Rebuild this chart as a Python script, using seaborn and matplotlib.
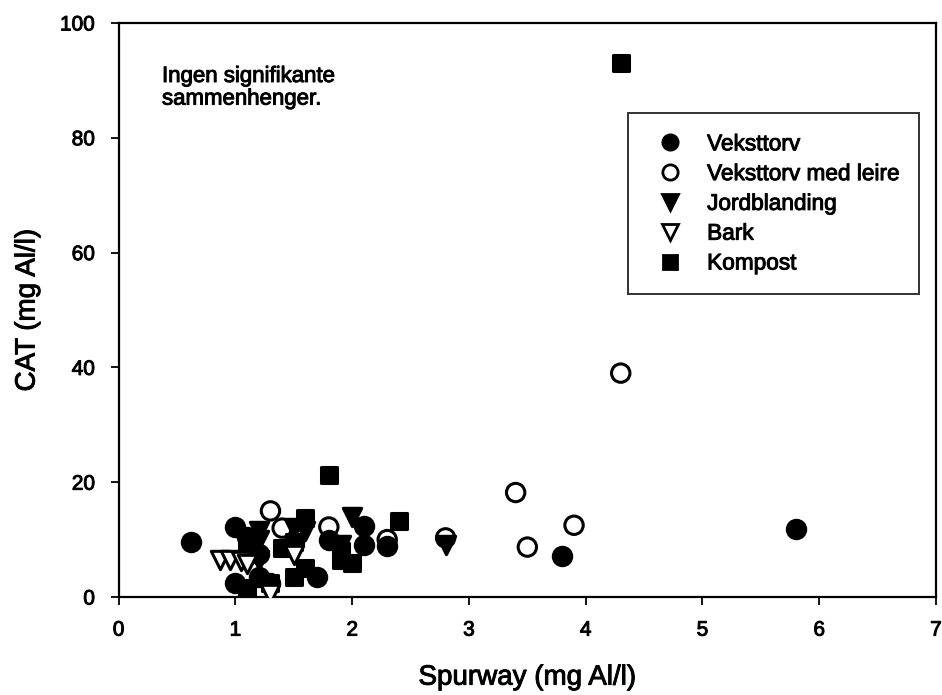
import matplotlib
matplotlib.use("Agg")
import matplotlib.pyplot as plt
import matplotlib.patheffects as pe
import seaborn as sns
import pandas as pd
from matplotlib.lines import Line2D

sns.set_theme(style="ticks")
plt.rcParams['font.family'] = ['Liberation Sans', 'DejaVu Sans']
plt.rcParams['text.color'] = 'black'
plt.rcParams['axes.labelcolor'] = 'black'
plt.rcParams['xtick.color'] = 'black'
plt.rcParams['ytick.color'] = 'black'

groups = ["Veksttorv", "Veksttorv med leire", "Jordblanding", "Bark", "Kompost"]

veksttorv_x = [0.62, 1.0, 1.0, 1.1, 1.2, 1.2, 1.5, 1.7, 1.8, 2.1, 2.1, 2.3, 3.8, 5.8, 1.3]
veksttorv_y = [9.5, 12.2, 2.5, 10.5, 7.5, 3.5, 9.5, 3.5, 10.0, 12.3, 9.0, 8.8, 7.2, 11.8, 2.5]

leire_x = [1.3, 1.4, 1.8, 2.3, 2.8, 3.4, 3.5, 3.9, 4.3]
leire_y = [15.0, 12.0, 12.2, 10.0, 10.3, 18.2, 8.7, 12.5, 39.0]

jord_x = [1.2, 1.2, 1.5, 1.6, 2.0, 1.9, 2.8, 1.2]
jord_y = [11.5, 10.0, 12.0, 11.5, 14.0, 9.0, 9.0, 6.5]

bark_x = [0.87, 0.95, 1.05, 1.1, 1.3, 1.5]
bark_y = [6.5, 6.5, 6.2, 5.8, 0.5, 7.3]

kompost_x = [4.3, 1.8, 2.4, 1.6, 1.4, 1.5, 1.6, 1.9, 1.9, 2.0, 1.1, 1.3, 1.5, 1.1]
kompost_y = [93.0, 21.3, 13.2, 13.8, 8.5, 3.5, 5.0, 8.0, 6.5, 6.0, 1.5, 2.5, 9.5, 8.0]

data = {
    "Veksttorv": (veksttorv_x, veksttorv_y),
    "Veksttorv med leire": (leire_x, leire_y),
    "Jordblanding": (jord_x, jord_y),
    "Bark": (bark_x, bark_y),
    "Kompost": (kompost_x, kompost_y),
}
styles = {
    "Veksttorv": ("o", "black", 175),
    "Veksttorv med leire": ("o", "none", 175),
    "Jordblanding": ("v", "black", 175),
    "Bark": ("v", "white", 175),
    "Kompost": ("s", "black", 135),
}

fig = plt.figure(figsize=(9.42, 6.95), dpi=100)
ax = fig.add_axes([0.126, 0.141, 0.8676, 0.826])

draw_order = ["Veksttorv", "Jordblanding", "Kompost", "Veksttorv med leire", "Bark"]
for g in draw_order:
    x, y = data[g]
    m, fc, s = styles[g]
    df = pd.DataFrame({"x": x, "y": y})
    sns.scatterplot(data=df, x="x", y="y", ax=ax, marker=m, s=s,
                    facecolor=fc, edgecolor="black", linewidth=2.2, zorder=3)

ax.set_xlim(0, 7)
ax.set_ylim(0, 100)
ax.set_xticks(range(0, 8))
ax.set_yticks(range(0, 101, 20))
ax.tick_params(axis="both", direction="out", length=6, width=1.3, labelsize=15, pad=11)
for sp in ax.spines.values():
    sp.set_linewidth(1.6)
    sp.set_color("black")
    sp.set_visible(True)

ax.set_xlabel("Spurway (mg Al/l)", fontsize=20, labelpad=18)
ax.set_ylabel("CAT (mg Al/l)", fontsize=20, labelpad=14)

ann = ax.text(0.053, 0.925, "Ingen signifikante\nsammenhenger.", transform=ax.transAxes,
              fontsize=16, va="top", ha="left", linespacing=1.1)

handles = []
for g in groups:
    m, fc, s = styles[g]
    handles.append(Line2D([], [], linestyle="none", marker=m, markersize=11 if m != "s" else 10,
                          markerfacecolor=fc if fc != "none" else "white",
                          markeredgecolor="black", markeredgewidth=2.0))
leg = ax.legend(handles, groups, loc="upper left", bbox_to_anchor=(0.623, 0.843),
                fontsize=16.3, frameon=True, fancybox=False, edgecolor="black",
                borderpad=0.85, labelspacing=0.3, handletextpad=0.65, borderaxespad=0)
leg.get_frame().set_linewidth(1.4)

stroke = [pe.withStroke(linewidth=0.7, foreground="black")]
texts = [ann, ax.xaxis.label, ax.yaxis.label] + list(leg.get_texts()) \
    + list(ax.get_xticklabels()) + list(ax.get_yticklabels())
for t in texts:
    t.set_path_effects(stroke)

fig.savefig("out.png", dpi=100, facecolor="white")
